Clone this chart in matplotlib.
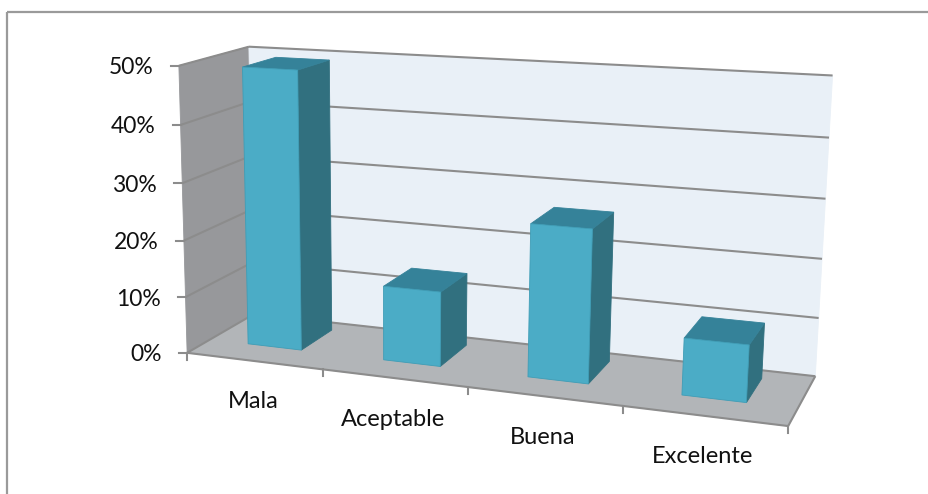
import numpy as np
import matplotlib
matplotlib.use("Agg")
import matplotlib.pyplot as plt
from matplotlib.patches import Polygon, Rectangle

plt.rcParams["font.family"] = ["Lato", "DejaVu Sans"]

categories = ["Mala", "Aceptable", "Buena", "Excelente"]
values = [0.49, 0.13, 0.26, 0.095]
value_ticks = [0.0, 0.1, 0.2, 0.3, 0.4, 0.5]
value_labels = ["0%", "10%", "20%", "30%", "40%", "50%"]

COL_FRONT = "#4BACC6"
COL_SIDE = "#31707F"
COL_TOP = "#358299"
COL_LEFT_WALL = "#97989B"
COL_FLOOR = "#B2B5B8"
COL_BACK_WALL = "#E9F0F7"
COL_GRID = "#8C8C8C"
COL_BORDER = "#9A9A9A"

# Perspective camera fitted to the corners of the chart box:
# (category position, depth, value) -> pixel position.
box_world = [(0, 0, 0), (4, 0, 0), (0, 1, 0), (4, 1, 0),
             (0, 0, 0.5), (0, 1, 0.5), (4, 1, 0.5)]
box_pixel = [(191, 350), (788, 429), (250, 317), (816, 373),
             (175, 66), (253, 46), (832, 76)]


def fit_camera(world, pixel):
    rows, rhs = [], []
    for (a, b, c), (px, py) in zip(world, pixel):
        rows.append([a, b, c, 1, 0, 0, 0, 0, -px * a, -px * b, -px * c])
        rhs.append(px)
        rows.append([0, 0, 0, 0, a, b, c, 1, -py * a, -py * b, -py * c])
        rhs.append(py)
    sol = np.linalg.lstsq(np.array(rows, float), np.array(rhs, float), rcond=None)[0]
    return np.append(sol, 1.0).reshape(3, 4)


CAMERA = fit_camera(box_world, box_pixel)


def project(u, d, v):
    x, y, w = CAMERA @ np.array([u, d, v, 1.0])
    return x / w, y / w


fig = plt.figure(figsize=(9.29, 4.94), dpi=100)
ax = fig.add_axes([0, 0, 1, 1])
ax.set_xlim(0, 929)
ax.set_ylim(494, 0)
ax.axis("off")

# Chart frame
ax.add_patch(Rectangle((7, 12), 940, 500, fill=False, ec=COL_BORDER, lw=1.6, zorder=1))

n = len(categories)
vmax = value_ticks[-1]


def face(points, color, z, edge=None):
    ax.add_patch(Polygon([project(*p) for p in points], closed=True, fc=color,
                         ec=edge or color, lw=0.6, zorder=z))


# Walls and floor
face([(0, 0, 0), (0, 1, 0), (0, 1, vmax), (0, 0, vmax)], COL_LEFT_WALL, 2)
face([(0, 1, 0), (n, 1, 0), (n, 1, vmax), (0, 1, vmax)], COL_BACK_WALL, 2)
face([(0, 0, 0), (n, 0, 0), (n, 1, 0), (0, 1, 0)], COL_FLOOR, 2)


def segment(a, b, **kw):
    pa, pb = project(*a), project(*b)
    ax.plot([pa[0], pb[0]], [pa[1], pb[1]], color=COL_GRID, lw=1.5,
            solid_capstyle="butt", zorder=3, **kw)


# Gridlines, value ticks and labels
for tick, label in zip(value_ticks, value_labels):
    segment((0, 0, tick), (0, 1, tick))
    segment((0, 1, tick), (n, 1, tick))
    x0, y0 = project(0, 0, tick)
    ax.plot([x0 - 8, x0], [y0, y0], color=COL_GRID, lw=1.5, zorder=3)
    ax.text(x0 - 25, y0 + 2, label, ha="right", va="center", fontsize=16.5, color="#111111")

# Category axis along the front of the floor
segment((0, 0, 0), (n, 0, 0))
segment((n, 0, 0), (n, 1, 0))
for i in range(n + 1):
    x0, y0 = project(i, 0, 0)
    ax.plot([x0, x0], [y0, y0 + 7], color=COL_GRID, lw=1.5, zorder=3)
for i, name in enumerate(categories):
    x0, y0 = project(i + 0.5, 0, 0)
    ax.text(x0 - 1, y0 + 41, name, ha="center", va="center", fontsize=17, color="#111111")

# Bars, drawn left to right
BAR_U = (0.29, 0.69)
BAR_D = (0.33, 0.83)
for i, val in enumerate(values):
    u0, u1 = i + BAR_U[0], i + BAR_U[1]
    d0, d1 = BAR_D
    z = 4 + i
    face([(u1, d0, 0), (u1, d1, 0), (u1, d1, val), (u1, d0, val)], COL_SIDE, z)
    face([(u0, d0, val), (u1, d0, val), (u1, d1, val), (u0, d1, val)], COL_TOP, z)
    face([(u0, d0, 0), (u1, d0, 0), (u1, d0, val), (u0, d0, val)], COL_FRONT, z, edge="#3F9DB6")

fig.savefig("out.png", dpi=100)
